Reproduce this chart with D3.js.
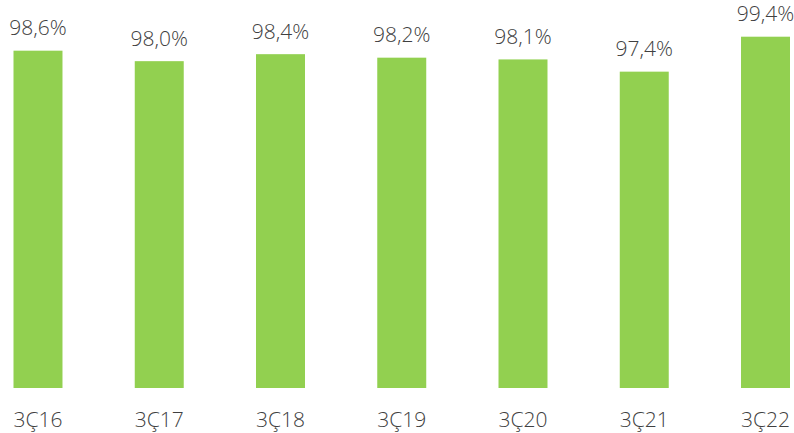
<!DOCTYPE html>
<html>
<head>
<meta charset="utf-8">
<script src="https://cdn.jsdelivr.net/npm/d3@7"></script>
<style>
  html, body { margin: 0; padding: 0; background: #fff; }
  svg { display: block; }
  text { font-family: "Open Sans", "Noto Sans", sans-serif; font-weight: 300; }
</style>
</head>
<body>
<svg id="chart" width="794" height="433"></svg>
<script>
// Quarterly values (%), one per period
const categories = ["3Ç16", "3Ç17", "3Ç18", "3Ç19", "3Ç20", "3Ç21", "3Ç22"];
const values = [98.6, 98.0, 98.4, 98.2, 98.1, 97.4, 99.4];
const valueLabels = ["98,6%", "98,0%", "98,4%", "98,2%", "98,1%", "97,4%", "99,4%"];

const svg = d3.select("#chart");
const baseY = 388;

const x = d3.scaleBand()
  .domain(categories)
  .range([13.5, 790])
  .paddingInner(0.596)
  .paddingOuter(0);

const y = d3.scaleLinear()
  .domain([79.3, 99.4])
  .range([baseY, 36.7]);

const data = categories.map((c, i) => ({ c, v: values[i], label: valueLabels[i] }));

// Bars
svg.append("g")
  .selectAll("rect")
  .data(data)
  .join("rect")
  .attr("x", d => x(d.c))
  .attr("y", d => y(d.v))
  .attr("width", x.bandwidth())
  .attr("height", d => baseY - y(d.v))
  .attr("fill", "#92D050");

// Value labels above bars
svg.append("g")
  .selectAll("text")
  .data(data)
  .join("text")
  .attr("x", d => x(d.c) + x.bandwidth() / 2)
  .attr("y", d => y(d.v) - 15.5)
  .attr("text-anchor", "middle")
  .attr("font-size", 21)
  .attr("fill", "#404040")
  .text(d => d.label);

// Category axis
const xAxis = d3.axisBottom(x).tickSize(0).tickPadding(0);
const gx = svg.append("g")
  .attr("transform", `translate(0,${baseY})`)
  .call(xAxis);
gx.select(".domain").remove();
gx.selectAll(".tick text")
  .attr("dy", null)
  .attr("y", 39)
  .attr("font-size", 21)
  .attr("font-family", "'Open Sans', 'Noto Sans', sans-serif")
  .attr("font-weight", 300)
  .attr("fill", "#404040");
</script>
</body>
</html>
